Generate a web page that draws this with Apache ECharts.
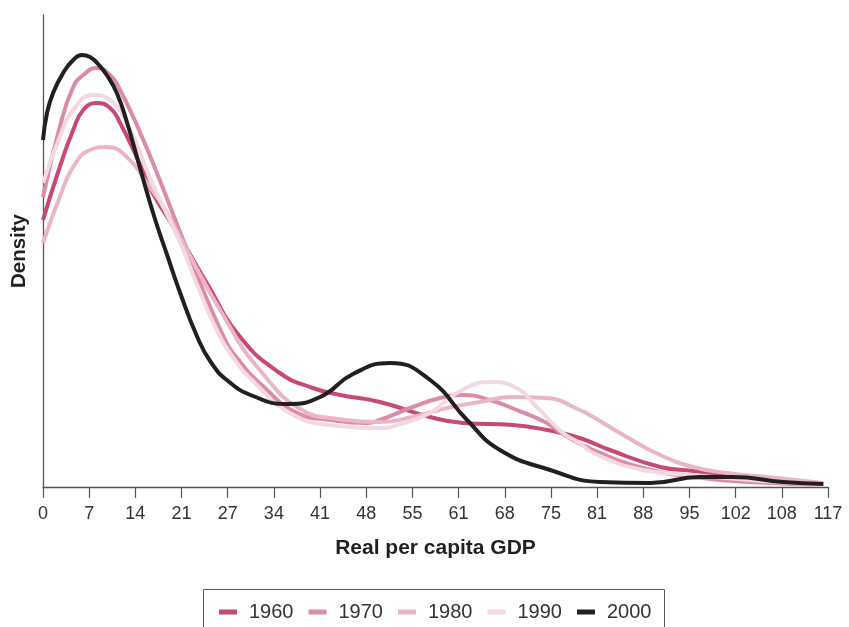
<!DOCTYPE html>
<html>
<head>
<meta charset="utf-8">
<script src="https://cdn.jsdelivr.net/npm/echarts@6/dist/echarts.min.js"></script>
<style>
html,body{margin:0;padding:0;background:#fff;}
#chart{width:849px;height:627px;}
</style>
</head>
<body>
<div id="chart"></div>
<script>
// x tick labels (Real per capita GDP)
var tickLabels = ['0','7','14','21','27','34','41','48','55','61','68','75','81','88','95','102','108','117'];
var seriesNames = ['1960','1970','1980','1990','2000'];

// [GDP, density] pairs (density in arbitrary units)
var d1960 = [[0,267],[2.5,320],[4.5,357],[6,377],[8,384],[10,379],[11.5,364],[14.5,322],[16,298],[20.4,250],[24.4,204],[29.4,150],[35.3,114],[40.2,99],[44.3,92],[50.2,85],[57.7,70],[62.6,64],[70.1,62],[75.1,57],[80,49],[84.5,37],[92,20],[96.9,16],[105.4,8],[116.3,3]];
var d1970 = [[0,290],[2.5,360],[4.5,400],[6,412],[8,419],[10,412],[11.5,397],[14.5,354],[17.4,307],[20.9,247],[26.8,152],[29.5,124],[32.3,104],[37.9,74],[42.8,67],[48.3,64],[50.2,67],[55.1,80],[59.2,89],[62.6,92],[66.6,87],[70.6,77],[75.1,64],[77,55],[82,37],[89.4,19],[96.9,10],[105.4,5],[116.3,2]];
var d1980 = [[0,244],[2.5,290],[4.5,320],[7,337],[9.5,340],[12.5,330],[15.5,304],[18.5,274],[21.2,240],[26.4,177],[32.3,117],[39.4,74],[42.8,69],[50.2,65],[55.1,70],[60.2,79],[65.1,85],[70.1,90],[75.1,89],[80,77],[82,70],[87,50],[92,32],[96.9,20],[101.9,14],[109.4,9],[116.3,4]];
var d1990 = [[0,304],[2.5,350],[4.5,377],[7.5,392],[10,387],[13,357],[16,308],[20.4,245],[23.1,200],[25.9,157],[28.5,128],[31.3,106],[36.8,74],[42.8,62],[50.7,59],[52.8,62],[57.7,74],[61.7,94],[66.6,105],[70.6,99],[73.6,80],[77.5,54],[80,44],[82,34],[89.4,17],[96.9,12],[105.4,7],[116.3,2]];
var d2000 = [[0,347],[0.6,374],[1.5,394],[3,414],[4.5,427],[5.8,432],[7,430],[8.2,423],[9.5,412],[11,394],[12.5,365],[14.5,318],[16.5,272],[18.5,232],[20.5,193],[23,150],[25,125],[27.4,107],[31.3,91],[36.4,83],[41.3,90],[46.2,113],[51.7,124],[57.7,107],[63.2,67],[68.1,37],[75.6,17],[83,5],[90.5,4],[97.9,10],[102.8,10],[110.3,5],[116.3,3]];

var colors = ['#c8487a','#db8ba7','#eab5c5','#f3d8df','#231f20'];
var dataSets = [d1960,d1970,d1980,d1990,d2000];

var chart = echarts.init(document.getElementById('chart'));
var step = 117/17;
var tickValues = tickLabels.map(function(_, i){ return i === tickLabels.length - 1 ? 117 : i * step; });
var option = {
  animation:false,
  backgroundColor:'#fff',
  grid:{left:43,right:21,top:15,bottom:140,containLabel:false,outerBoundsMode:'none'},
  xAxis:{
    type:'value',min:0,max:117,
    name:'Real per capita GDP',nameLocation:'middle',nameGap:51,
    nameTextStyle:{fontFamily:'Liberation Sans, Arial, sans-serif',fontWeight:'bold',fontSize:21,color:'#231f20'},
    axisLine:{show:true,lineStyle:{color:'#555',width:1.3}},
    axisTick:{show:true,length:11,customValues:tickValues,lineStyle:{color:'#555',width:1.2}},
    splitLine:{show:false},
    axisLabel:{
      margin:18,fontSize:18,color:'#333',customValues:tickValues,hideOverlap:false,
      fontFamily:'Liberation Sans, Arial, sans-serif',
      formatter:function(v){
        var i=Math.round(v/step);
        if(i===tickLabels.length-1 && v!==117){return '';}
        return tickLabels[i]!==undefined?tickLabels[i]:'';
      }
    }
  },
  yAxis:{
    type:'value',min:0,max:472,
    name:'Density',nameLocation:'middle',nameGap:13,nameRotate:90,
    nameTextStyle:{fontFamily:'Liberation Sans, Arial, sans-serif',fontWeight:'bold',fontSize:20.5,color:'#231f20'},
    axisLine:{show:true,lineStyle:{color:'#555',width:1.3}},
    axisTick:{show:false},axisLabel:{show:false},splitLine:{show:false}
  },
  legend:{
    data:seriesNames,left:214,top:597,
    icon:'rect',itemWidth:18,itemHeight:5,itemGap:15,
    textStyle:{fontFamily:'Liberation Sans, Arial, sans-serif',fontSize:20,color:'#333',padding:[0,0,0,7]}
  },
  graphic:[{type:'rect',left:201,top:587,shape:{width:461,height:60},style:{fill:'none',stroke:'#555',lineWidth:1},silent:true,z:-1}],
  series:seriesNames.map(function(n,i){
    return {name:n,type:'line',data:dataSets[i],smooth:0.5,symbol:'none',z:i===4?10:(2+i),
      lineStyle:{color:colors[i],width:4},itemStyle:{color:colors[i]}};
  })
};
chart.setOption(option);
</script>
</body>
</html>
